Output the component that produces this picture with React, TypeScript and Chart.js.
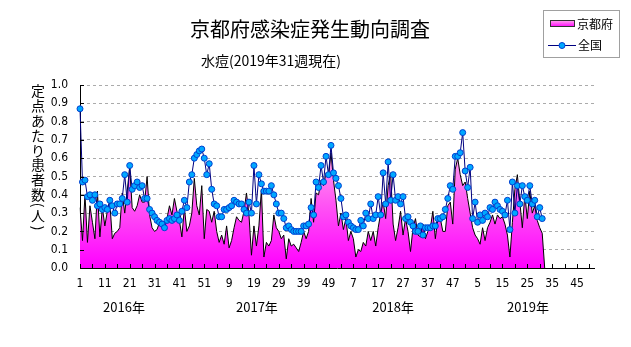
import React, { useEffect, useRef } from 'react';
import { Chart, registerables } from 'chart.js';

Chart.register(...registerables);

const TITLE = '京都府感染症発生動向調査';
const SUBTITLE = '水痘(2019年31週現在)';
const Y_TITLE_CHARS = ['定', '点', 'あ', 'た', 'り', '患', '者', '数', '(', '人', ')'];
const LEGEND_KYOTO = '京都府';
const LEGEND_NATIONAL = '全国';
const YEAR_NAMES = ['2016年', '2017年', '2018年', '2019年'];
const WEEKS_IN_YEAR = [52, 52, 52, 52];
const WEEK_LABELS: string[] = WEEKS_IN_YEAR.flatMap((n) =>
  Array.from({ length: n }, (_, i) => String(i + 1))
);

// 全国 (national) per-sentinel counts, 2016 w1 .. 2019 w31
const NATIONAL = [
  0.87, 0.47, 0.48, 0.39, 0.40, 0.37, 0.40, 0.34, 0.35, 0.32,
  0.33, 0.32, 0.37, 0.34, 0.30, 0.35, 0.35, 0.38, 0.51, 0.36,
  0.56, 0.43, 0.45, 0.47, 0.44, 0.45, 0.38, 0.38, 0.32, 0.30,
  0.28, 0.26, 0.25, 0.24, 0.22, 0.26, 0.27, 0.26, 0.27, 0.29,
  0.26, 0.31, 0.37, 0.33, 0.47, 0.51, 0.60, 0.62, 0.64, 0.65,
  0.60, 0.51, 0.57, 0.43, 0.35, 0.34, 0.28, 0.28, 0.32, 0.32,
  0.33, 0.34, 0.37, 0.36, 0.35, 0.35, 0.32, 0.30, 0.36, 0.30,
  0.56, 0.35, 0.51, 0.46, 0.42, 0.42, 0.42, 0.45, 0.40, 0.35,
  0.30, 0.30, 0.27, 0.22, 0.23, 0.21, 0.20, 0.20, 0.20, 0.20,
  0.23, 0.23, 0.24, 0.33, 0.29, 0.47, 0.44, 0.56, 0.47, 0.61,
  0.51, 0.67, 0.52, 0.49, 0.45, 0.38, 0.28, 0.29, 0.25, 0.23,
  0.22, 0.21, 0.21, 0.26, 0.23, 0.30, 0.27, 0.35, 0.27, 0.29,
  0.39, 0.29, 0.52, 0.35, 0.58, 0.37, 0.51, 0.37, 0.39, 0.35,
  0.39, 0.27, 0.28, 0.25, 0.23, 0.20, 0.20, 0.23, 0.18, 0.22,
  0.22, 0.22, 0.23, 0.23, 0.27, 0.27, 0.28, 0.32, 0.38, 0.45,
  0.43, 0.61, 0.61, 0.63, 0.74, 0.53, 0.44, 0.55, 0.27, 0.36,
  0.25, 0.29, 0.26, 0.30, 0.28, 0.33, 0.32, 0.36, 0.34, 0.32,
  0.31, 0.29, 0.37, 0.21, 0.47, 0.30, 0.45, 0.35, 0.45, 0.39,
  0.37, 0.45, 0.35, 0.37, 0.28, 0.33, 0.27,
];

// 京都府 (Kyoto) per-sentinel counts, 2016 w1 .. 2019 w31, then 0
const KYOTO = [
  0.33, 0.15, 0.40, 0.14, 0.34, 0.25, 0.16, 0.42, 0.17, 0.33,
  0.23, 0.31, 0.36, 0.16, 0.19, 0.20, 0.22, 0.41, 0.30, 0.42,
  0.55, 0.33, 0.31, 0.34, 0.40, 0.36, 0.36, 0.50, 0.29, 0.22,
  0.20, 0.21, 0.25, 0.22, 0.24, 0.27, 0.34, 0.29, 0.38, 0.31,
  0.26, 0.17, 0.33, 0.20, 0.23, 0.30, 0.49, 0.34, 0.29, 0.45,
  0.16, 0.32, 0.31, 0.25, 0.31, 0.20, 0.14, 0.18, 0.13, 0.23,
  0.11, 0.15, 0.22, 0.28, 0.26, 0.25, 0.31, 0.41, 0.29, 0.07,
  0.23, 0.12, 0.23, 0.43, 0.06, 0.14, 0.12, 0.15, 0.29, 0.22,
  0.20, 0.16, 0.18, 0.05, 0.16, 0.12, 0.13, 0.11, 0.09, 0.14,
  0.20, 0.16, 0.20, 0.38, 0.25, 0.41, 0.40, 0.48, 0.45, 0.52,
  0.50, 0.63, 0.48, 0.37, 0.23, 0.30, 0.21, 0.27, 0.15, 0.20,
  0.16, 0.06, 0.10, 0.09, 0.14, 0.12, 0.20, 0.15, 0.20, 0.12,
  0.22, 0.30, 0.36, 0.27, 0.45, 0.52, 0.24, 0.15, 0.22, 0.31,
  0.18, 0.27, 0.20, 0.09, 0.22, 0.27, 0.18, 0.17, 0.24, 0.16,
  0.20, 0.22, 0.31, 0.16, 0.27, 0.27, 0.20, 0.20, 0.34, 0.36,
  0.24, 0.54, 0.60, 0.51, 0.45, 0.47, 0.38, 0.30, 0.22, 0.18,
  0.16, 0.13, 0.22, 0.15, 0.22, 0.25, 0.29, 0.24, 0.29, 0.27,
  0.28, 0.24, 0.18, 0.06, 0.25, 0.43, 0.51, 0.36, 0.22, 0.40,
  0.27, 0.42, 0.30, 0.34, 0.26, 0.22, 0.19, 0,
];

const JP = '"Noto Sans CJK JP", "Noto Sans", sans-serif';
const NARROW = '"Liberation Sans Narrow", "DejaVu Sans Condensed", sans-serif';

function pinkGradient(ctx: CanvasRenderingContext2D, yBottom: number, yTop: number) {
  const g = ctx.createLinearGradient(0, yBottom, 0, yTop);
  g.addColorStop(0, '#ff00ff');
  g.addColorStop(0.5, '#ff55f4');
  g.addColorStop(1, '#ffb4ec');
  return g;
}

const decorPlugin = {
  id: 'decor',
  afterDatasetsDraw(chart: any) {
    const { ctx, chartArea: a, scales } = chart;
    const x = scales.x;
    const y = scales.y;
    ctx.save();
    ctx.strokeStyle = '#000';
    ctx.lineWidth = 1;
    ctx.beginPath();
    for (let i = 0; i < WEEK_LABELS.length; i += 5) {
      const px = Math.round(x.getPixelForValue(i)) + 0.5;
      ctx.moveTo(px, a.bottom);
      ctx.lineTo(px, a.bottom - 4);
    }
    for (let v = 0; v <= 10; v++) {
      const py = Math.round(y.getPixelForValue(v / 10)) + 0.5;
      ctx.moveTo(a.left, py);
      ctx.lineTo(a.left + 4, py);
    }
    ctx.stroke();
    ctx.restore();
  },
  afterDraw(chart: any) {
    const { ctx, scales } = chart;
    const x = scales.x;
    ctx.save();
    ctx.fillStyle = '#000';
    ctx.textBaseline = 'middle';

    // title
    ctx.font = `20px ${JP}`;
    ctx.textAlign = 'center';
    ctx.fillText(TITLE, 310, 29);

    // subtitle
    ctx.font = `14px ${JP}`;
    ctx.textAlign = 'left';
    ctx.fillText(SUBTITLE, 201, 61);

    // legend
    ctx.strokeStyle = '#a0a0a0';
    ctx.lineWidth = 1;
    ctx.strokeRect(543.5, 10.5, 76, 47);
    ctx.fillStyle = pinkGradient(ctx, 27, 20);
    ctx.fillRect(550, 20, 25, 7);
    ctx.strokeStyle = '#303030';
    ctx.strokeRect(550.5, 20.5, 24, 6);
    ctx.fillStyle = '#000';
    ctx.font = `12px ${JP}`;
    ctx.fillText(LEGEND_KYOTO, 577, 24);
    ctx.strokeStyle = '#000080';
    ctx.beginPath();
    ctx.moveTo(548, 45.5);
    ctx.lineTo(576, 45.5);
    ctx.stroke();
    ctx.beginPath();
    ctx.arc(562, 45.5, 3, 0, Math.PI * 2);
    ctx.fillStyle = '#00a8ff';
    ctx.fill();
    ctx.strokeStyle = '#0040d0';
    ctx.stroke();
    ctx.fillStyle = '#000';
    ctx.fillText(LEGEND_NATIONAL, 578, 45);

    // vertical y-axis title
    ctx.font = `14px ${JP}`;
    ctx.textAlign = 'center';
    const ys = [91, 106, 121, 136, 150.5, 165, 180, 194.5, 205, 216, 228];
    Y_TITLE_CHARS.forEach((c, i) => {
      if (c === '(' || c === ')') {
        ctx.save();
        ctx.translate(38, ys[i]);
        ctx.rotate(Math.PI / 2);
        ctx.fillText(c, 0, 0);
        ctx.restore();
      } else {
        ctx.fillText(c, 38, ys[i]);
      }
    });

    // year labels
    ctx.font = `13px ${JP}`;
    const yearAt = [17.7, 71.2, 126, 180.3];
    YEAR_NAMES.forEach((t, i) => {
      ctx.fillText(t, x.getPixelForValue(yearAt[i]), 307);
    });
    ctx.restore();
  },
};

export default function App() {
  const ref = useRef<HTMLCanvasElement>(null);
  useEffect(() => {
    if (!ref.current) return;
    const chart = new Chart(ref.current, {
      type: 'line',
      data: {
        labels: WEEK_LABELS,
        datasets: [
          {
            label: LEGEND_NATIONAL,
            data: NATIONAL,
            order: 1,
            borderColor: '#000080',
            borderWidth: 1,
            pointRadius: 3,
            pointBorderWidth: 1,
            pointBackgroundColor: '#00a8ff',
            pointBorderColor: '#0040d0',
            fill: false,
            tension: 0,
            clip: false as any,
          },
          {
            label: LEGEND_KYOTO,
            data: KYOTO,
            order: 2,
            borderColor: '#000000',
            borderWidth: 1,
            pointRadius: 0,
            fill: 'origin',
            tension: 0,
            backgroundColor: (c: any) => {
              const ch = c.chart;
              if (!ch.chartArea) return '#ff00ff';
              return pinkGradient(ch.ctx, ch.chartArea.bottom, ch.scales.y.getPixelForValue(0.7));
            },
          },
        ],
      },
      options: {
        responsive: false,
        animation: false,
        devicePixelRatio: 1,
        layout: { padding: { top: 85, right: 36.6, left: 0, bottom: 0 } },
        plugins: {
          legend: { display: false },
          title: { display: false },
          tooltip: { enabled: false },
        },
        scales: {
          x: {
            type: 'category',
            offset: false,
            grid: { display: false, drawTicks: false },
            border: { display: true, color: '#000', width: 1 },
            ticks: {
              autoSkip: false,
              maxRotation: 0,
              minRotation: 0,
              padding: 9,
              color: '#000',
              font: { family: NARROW, size: 12 },
              callback: (_v: any, i: number) => (i % 10 === 0 ? WEEK_LABELS[i] : ''),
            },
            afterFit: (s: any) => {
              s.height = 79;
            },
          },
          y: {
            min: 0,
            max: 1,
            grid: { display: true, drawTicks: false, color: '#ababab', lineWidth: 1 },
            border: { display: true, color: '#000', width: 1, dash: [3, 3] },
            ticks: {
              stepSize: 0.1,
              padding: 12,
              color: '#000',
              font: { family: NARROW, size: 12 },
              callback: (v: any) => Number(v).toFixed(1),
            },
            afterFit: (s: any) => {
              s.width = 80;
            },
          },
        },
      },
      plugins: [decorPlugin],
    });
    return () => chart.destroy();
  }, []);
  return (
    <div style={{ position: 'fixed', left: 0, top: 0, width: 631, height: 347, background: '#fff' }}>
      <canvas ref={ref} width={631} height={347} />
    </div>
  );
}
